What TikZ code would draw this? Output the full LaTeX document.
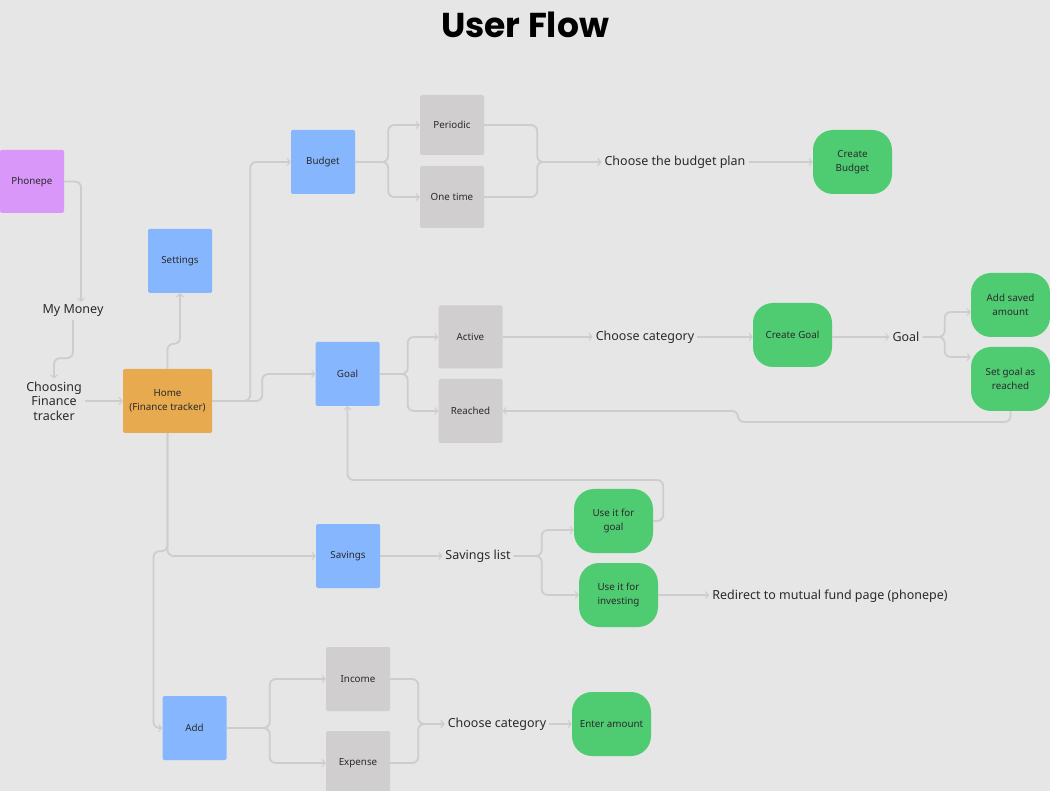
\documentclass[tikz,border=0pt]{standalone}
\usepackage{fontspec}
\setmainfont{Noto Sans}
\newfontfamily\titlefont{Poppins}
\usetikzlibrary{arrows.meta}
\definecolor{bg}{HTML}{E6E6E6}
\definecolor{lineC}{HTML}{CDCDCD}
\definecolor{txt}{HTML}{2A2A2A}
\definecolor{pinkC}{HTML}{D997FA}
\definecolor{blueC}{HTML}{86B6FE}
\definecolor{orangeC}{HTML}{E8AA4E}
\definecolor{grayC}{HTML}{D0CECE}
\definecolor{greenC}{HTML}{4FCC72}
\tikzset{
  box/.style={minimum width=64pt, minimum height=64pt, inner sep=2pt, align=center,
    font=\fontsize{9.8}{14.5}\selectfont, text=txt, rounded corners=1.5pt},
  bluebox/.style={box, fill=blueC},
  graybox/.style={box, fill=grayC},
  pinkbox/.style={box, fill=pinkC, minimum height=63pt},
  orangebox/.style={box, fill=orangeC, minimum width=89pt},
  greenbox/.style={box, fill=greenC, minimum width=79pt, rounded corners=20pt},
  plain/.style={font=\fontsize{12.5}{15}\selectfont, text=txt, inner sep=3pt, align=center},
  conn/.style={draw=lineC, line width=1.8pt, rounded corners=6pt},
  arr/.style={conn, -{Straight Barb[length=3pt,width=7pt,line width=1pt]}},
}
\begin{document}
\begin{tikzpicture}[x=1pt,y=-1pt]
\fill[bg] (0,0) rectangle (1050,791);
\useasboundingbox (0,0) rectangle (1050,791);

\node[font=\titlefont\bfseries\fontsize{34.5}{40}\selectfont, text=black] (title) at (525,25) {User Flow};

% nodes
\node[pinkbox] (phonepe) at (32,181.5) {Phonepe};
\node[plain] (mymoney) at (73,311) {My Money};
\node[plain, font=\fontsize{12.5}{14.5}\selectfont] (choosing) at (54,401) {Choosing\\Finance\\tracker};
\node[bluebox] (settings) at (180,261) {Settings};
\node[orangebox] (home) at (167.5,401) {Home\\(Finance tracker)};

\node[bluebox] (budget) at (323,162) {Budget};
\node[graybox, minimum height=60pt] (periodic) at (452,125) {Periodic};
\node[graybox, minimum height=62pt] (onetime) at (452,197) {One time};
\node[plain] (cbp) at (675,162) {Choose the budget plan};
\node[greenbox] (createbudget) at (852.5,162) {Create\\Budget};

\node[bluebox] (goal) at (347.5,374) {Goal};
\node[graybox, minimum height=63pt] (active) at (470.5,337) {Active};
\node[graybox] (reached) at (470.5,411) {Reached};
\node[plain] (cc1) at (645,337) {Choose category};
\node[greenbox] (creategoal) at (792.5,335) {Create Goal};
\node[plain] (goaltxt) at (906,337) {Goal};
\node[greenbox] (addsaved) at (1010.5,305) {Add saved\\amount};
\node[greenbox] (setgoal) at (1010.5,379) {Set goal as\\reached};

\node[bluebox] (savings) at (348,556) {Savings};
\node[plain] (slist) at (478,556) {Savings list};
\node[greenbox] (usegoal) at (613.5,521) {Use it for\\goal};
\node[greenbox] (useinvest) at (618.5,595) {Use it for\\investing};
\node[plain] (redirect) at (830,596) {Redirect to mutual fund page (phonepe)};

\node[bluebox] (add) at (194.5,728) {Add};
\node[graybox] (income) at (358,679) {Income};
\node[graybox] (expense) at (358,763) {Expense};
\node[plain] (cc2) at (497,724) {Choose category};
\node[greenbox] (enter) at (611.5,724) {Enter amount};

% connectors
\draw[arr] (phonepe.east) -| ([xshift=8pt]mymoney.north);
\draw[arr] (mymoney.south) -- ++(0,38) -| (choosing.north);
\draw[arr] (choosing.east) -- (home.west);
\draw[arr] (home.north) -- ++(0,-25) -| (settings.south);
\draw[arr] (home.east) -- ++(38,0) |- (budget.west);
\draw[arr] (home.east) -- ++(50,0) |- (goal.west);
\draw[arr] (home.south) |- (savings.west);
\draw[arr] (home.south) -- ++(0,118) -| ++(-14,12) |- (add.west);

\draw[arr] (budget.east) -- ++(33,0) |- (periodic.west);
\draw[arr] (budget.east) -- ++(33,0) |- (onetime.west);
\draw[arr] (periodic.east) -- ++(53,0) |- (cbp.west);
\draw[arr] (onetime.east) -- ++(53,0) |- (cbp.west);
\draw[arr] (cbp.east) -- (cbp.east -| createbudget.west);

\draw[arr] (goal.east) -- ++(28,0) |- (active.west);
\draw[arr] (goal.east) -- ++(28,0) |- (reached.west);
\draw[arr] (active.east) -- (cc1.west);
\draw[arr] (cc1.east) -- (cc1.east -| creategoal.west);
\draw[arr] (creategoal.east |- goaltxt.west) -- (goaltxt.west);
\draw[arr] (goaltxt.east) -- ++(22,0) |- ([yshift=-7pt]addsaved.west);
\draw[arr] (goaltxt.east) -- ++(22,0) |- ([yshift=22pt]setgoal.west);
\draw[arr] (setgoal.south) |- (738,422) |- (reached.east);
\draw[arr] (usegoal.east) -- ++(10,0) -- ++(0,-41) -| (goal.south);

\draw[arr] (savings.east) -- (slist.west);
\draw[arr] (slist.east) -- ++(28,0) |- ([yshift=-9pt]usegoal.west);
\draw[arr] (slist.east) -- ++(28,0) |- (useinvest.west);
\draw[arr] (useinvest.east) -- (useinvest.east -| redirect.west);

\draw[arr] (add.east) -- ++(43,0) |- (income.west);
\draw[arr] (add.east) -- ++(43,0) |- (expense.west);
\draw[arr] (income.east) -- ++(28,0) |- (cc2.west);
\draw[arr] (expense.east) -- ++(28,0) |- (cc2.west);
\draw[arr] (cc2.east) -- (enter.west);
\end{tikzpicture}
\end{document}
